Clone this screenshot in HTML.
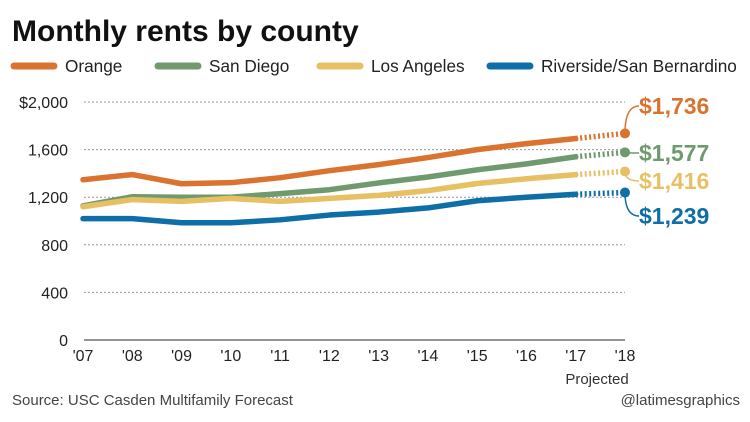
<!DOCTYPE html>
<html><head><meta charset="utf-8"><style>
body{margin:0;background:#fff;font-family:"Liberation Sans",sans-serif;}
svg{display:block}
</style></head><body>
<svg width="750" height="422" id="c">
<text x="12" y="41" font-size="30" font-weight="bold" fill="#111">Monthly rents by county</text>
<g id="legend"></g>
<g id="grid"></g>
<g id="lines"></g>
<text x="597" y="384" font-size="15" fill="#333" text-anchor="middle">Projected</text>
<text x="12" y="405" font-size="15" fill="#444">Source: USC Casden Multifamily Forecast</text>
<text x="740" y="405" font-size="15" fill="#444" text-anchor="end">@latimesgraphics</text>
</svg>
<script>
const years=["'07","'08","'09","'10","'11","'12","'13","'14","'15","'16","'17","'18"];
const yTicks=[0,400,800,1200,1600,2000];
const seriesNames=["Orange","San Diego","Los Angeles","Riverside/San Bernardino"];
const orange=[1347,1390,1313,1322,1364,1423,1474,1533,1600,1650,1693,1736];
const sanDiego=[1128,1204,1200,1200,1230,1263,1320,1370,1430,1480,1540,1577];
const losAngeles=[1120,1180,1165,1190,1165,1190,1215,1255,1315,1355,1390,1416];
const riverside=[1020,1020,985,985,1010,1050,1075,1110,1170,1200,1225,1239];
const endLabels=["$1,736","$1,577","$1,416","$1,239"];
const colors=["#d9732f","#6e9a6e","#e8c064","#0e6ea8"];
const NS="http://www.w3.org/2000/svg";
const x=i=>83+i*(625-83)/11;
const y=v=>340-v*(340-102)/2000;
function mk(tag,attrs,parent){const e=document.createElementNS(NS,tag);for(const k in attrs)e.setAttribute(k,attrs[k]);parent.appendChild(e);return e;}
const grid=document.getElementById('grid');
yTicks.forEach(t=>{
  const l=mk('line',{x1:84,x2:625,y1:y(t),y2:y(t),stroke:t===0?'#555':'#999','stroke-width':t===0?1.2:1,'stroke-dasharray':t===0?'':'2,2'},grid);
  
  
  const tx=mk('text',{x:68,y:y(t)+6,'font-size':16,fill:'#222','text-anchor':'end'},grid);
  tx.textContent=t===2000?'$2,000':t.toLocaleString('en-US');
  
  
});
years.forEach((yr,i)=>{
  const tx=mk('text',{x:x(i),y:361,'font-size':16,fill:'#222','text-anchor':'middle'},grid);
  tx.textContent=yr;
  
  
});
const all=[orange,sanDiego,losAngeles,riverside];
const labelY=[114,161,189,224];
const lines=document.getElementById('lines');
all.forEach((s,k)=>{
  const pts=s.slice(0,11).map((v,i)=>x(i)+','+y(v)).join(' ');
  const p=mk('polyline',{points:pts,fill:'none',stroke:colors[k],'stroke-width':5.5,'stroke-linejoin':'round','stroke-linecap':'round'},lines);
  
  
  const d=mk('line',{x1:x(10),y1:y(s[10]),x2:x(11),y2:y(s[11]),stroke:colors[k],'stroke-width':5.5,'stroke-dasharray':'2,2.5'},lines);
  
  
  const c=mk('circle',{cx:x(11),cy:y(s[11]),r:5,fill:colors[k]},lines);
  
  
  const ly=labelY[k];
  const cy=y(s[11]);
  const ld=mk('path',{d:`M${x(11)} ${cy} Q${x(11)} ${ly-8} ${x(11)+14} ${ly-8}`,fill:'none',stroke:colors[k],'stroke-width':1.5},lines);
  
  
  const t=mk('text',{x:639,y:ly,'font-size':23,'font-weight':'bold',fill:colors[k]},lines);
  t.textContent=endLabels[k];
  
  
});
const leg=document.getElementById('legend');
const legX=[14,158,320,490];
seriesNames.forEach((n,k)=>{
  const l=mk('line',{x1:legX[k],x2:legX[k]+40,y1:66,y2:66,stroke:colors[k],'stroke-width':7,'stroke-linecap':'round'},leg);
  
  
  const t=mk('text',{x:legX[k]+51,y:72,'font-size':17.2,fill:'#222'},leg);
  t.textContent=n;
  
  
});
</script>
</body></html>
